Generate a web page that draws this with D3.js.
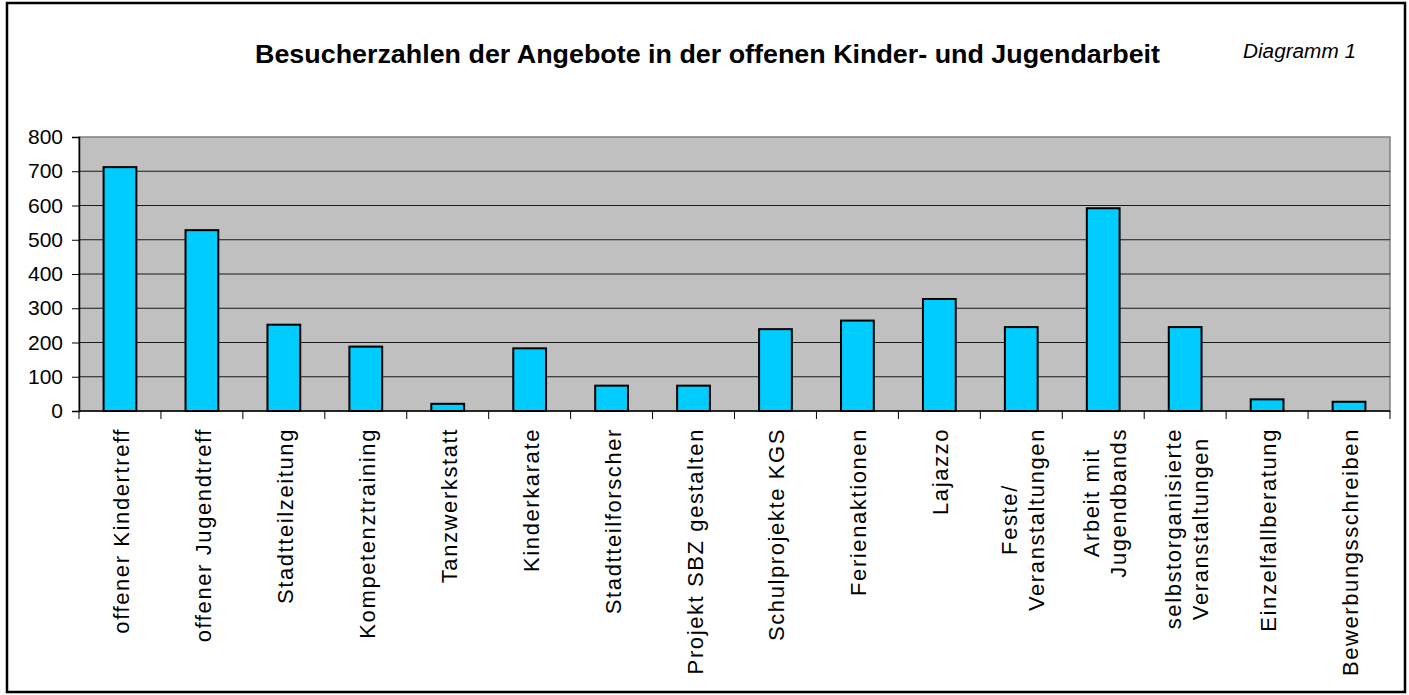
<!DOCTYPE html>
<html>
<head>
<meta charset="utf-8">
<script src="https://cdn.jsdelivr.net/npm/d3@7"></script>
<style>
  body { margin: 0; background: #fff; }
  svg { display: block; font-family: Arial, "Liberation Sans", sans-serif; }
</style>
</head>
<body>
<svg id="chart"></svg>
<script>
// ---------- data ----------
var categories = ["offener Kindertreff", "offener Jugendtreff", "Stadtteilzeitung", "Kompetenztraining",
  "Tanzwerkstatt", "Kinderkarate", "Stadtteilforscher", "Projekt SBZ gestalten", "Schulprojekte KGS",
  "Ferienaktionen", "Lajazzo", "Feste/\nVeranstaltungen", "Arbeit mit\nJugendbands",
  "selbstorganisierte\nVeranstaltungen", "Einzelfallberatung", "Bewerbungsschreiben"]
var visitors = [712, 528, 252, 188, 21, 183, 74, 74, 239, 264, 327, 245, 592, 245, 34, 27]
var yTicks = [0, 100, 200, 300, 400, 500, 600, 700, 800]
var titleText = "Besucherzahlen der Angebote in der offenen Kinder- und Jugendarbeit"
var noteText = "Diagramm 1"

var screen = {width: 1409, height: 695}
var plot = {left: 79, right: 1390, top: 137, bottom: 411}

var svg = d3.select("#chart")
  .attr("width", screen.width)
  .attr("height", screen.height)

// outer frame
svg.append("rect")
  .attr("x", 7).attr("y", 3)
  .attr("width", 1398).attr("height", 689)
  .attr("fill", "#fff")
  .attr("stroke", "#000")
  .attr("stroke-width", 2.5)

// ---------- scales ----------
var xScale = d3.scaleBand()
  .domain(categories)
  .range([plot.left, plot.right])
  .paddingInner(0.6)
  .paddingOuter(0.3)

var yScale = d3.scaleLinear()
  .domain([0, 800])
  .range([plot.bottom, plot.top])

// plot background
svg.append("rect")
  .attr("x", plot.left).attr("y", plot.top)
  .attr("width", plot.right - plot.left)
  .attr("height", plot.bottom - plot.top)
  .attr("fill", "#c0c0c0")
  .attr("stroke", "#808080")
  .attr("stroke-width", 1.5)

// gridlines
svg.append("g")
  .selectAll("line")
  .data(yTicks.filter(function(d) { return d > 0 && d < 800 }))
  .enter()
  .append("line")
  .attr("x1", plot.left).attr("x2", plot.right)
  .attr("y1", function(d) { return yScale(d) })
  .attr("y2", function(d) { return yScale(d) })
  .attr("stroke", "#1a1a1a")
  .attr("stroke-width", 1.2)

// bars
svg.append("g")
  .selectAll("rect")
  .data(visitors)
  .enter()
  .append("rect")
  .attr("x", function(d, i) { return xScale(categories[i]) })
  .attr("y", function(d) { return yScale(d) })
  .attr("width", xScale.bandwidth())
  .attr("height", function(d) { return plot.bottom - yScale(d) })
  .attr("fill", "#00ccff")
  .attr("stroke", "#000")
  .attr("stroke-width", 2)

// ---------- axes ----------
var yAxis = d3.axisLeft(yScale)
  .tickValues(yTicks)
  .tickSize(7)
  .tickPadding(9)
svg.append("g")
  .attr("transform", "translate(" + plot.left + ",0)")
  .call(yAxis)
  .call(function(g) {
    g.select(".domain").attr("stroke", "#000").attr("stroke-width", 1.5)
    g.selectAll(".tick line").attr("stroke", "#000")
    g.selectAll("text")
      .attr("font-size", 21)
      .attr("font-family", "Arial, 'Liberation Sans', sans-serif")
      .attr("fill", "#000")
  })

// x axis line and boundary ticks
var step = xScale.step()
var bounds = d3.range(categories.length + 1).map(function(i) {
  return i === categories.length ? plot.right : xScale(categories[i]) - step * 0.3
})
var xAxisG = svg.append("g")
xAxisG.append("line")
  .attr("x1", plot.left).attr("x2", plot.right)
  .attr("y1", plot.bottom).attr("y2", plot.bottom)
  .attr("stroke", "#000")
  .attr("stroke-width", 1.5)
xAxisG.selectAll(".bt")
  .data(bounds)
  .enter()
  .append("line")
  .attr("class", "bt")
  .attr("x1", function(d) { return d }).attr("x2", function(d) { return d })
  .attr("y1", plot.bottom).attr("y2", plot.bottom + 8)
  .attr("stroke", "#000")
  .attr("stroke-width", 1)

// rotated category labels
var labelTop = 428
var lineH = 27
categories.forEach(function(c) {
  var lines = c.split("\n")
  var cx = xScale(c) + xScale.bandwidth() / 2
  var g = xAxisG.append("g")
    .attr("transform", "translate(" + cx + "," + labelTop + ") rotate(-90)")
  var texts = g.selectAll("text")
    .data(lines)
    .enter()
    .append("text")
    .attr("text-anchor", "middle")
    .attr("y", function(d, i) { return (i - (lines.length - 1) / 2) * lineH + 9 })
    .attr("font-size", 22)
    .style("letter-spacing", "1.6px")
    .attr("fill", "#000")
    .text(function(d) { return d })
  var w = d3.max(texts.nodes(), function(n) { return n.getComputedTextLength() })
  texts.attr("x", -w / 2)
})

// ---------- titles ----------
svg.append("text")
  .attr("x", 255).attr("y", 63)
  .attr("font-size", 25)
  .attr("font-weight", "bold")
  .attr("textLength", 905)
  .attr("lengthAdjust", "spacingAndGlyphs")
  .attr("fill", "#000")
  .text(titleText)

svg.append("text")
  .attr("x", 1243).attr("y", 58)
  .attr("font-size", 20)
  .attr("font-style", "italic")
  .attr("textLength", 113)
  .attr("lengthAdjust", "spacingAndGlyphs")
  .attr("fill", "#000")
  .text(noteText)
</script>
</body>
</html>
